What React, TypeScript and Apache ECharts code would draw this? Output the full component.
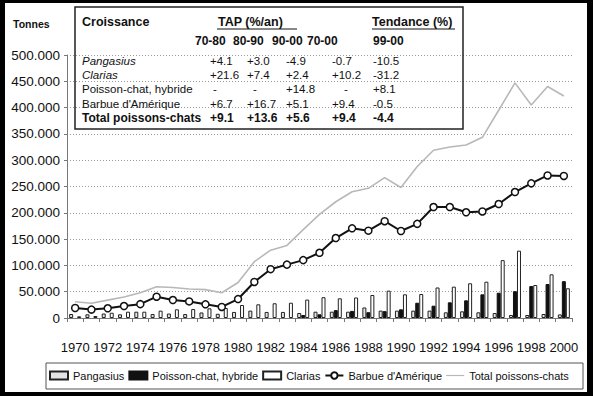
import React, { useEffect, useRef } from "react";
import * as echarts from "echarts";

const years = ["1970","1971","1972","1973","1974","1975","1976","1977","1978","1979","1980","1981","1982","1983","1984","1985","1986","1987","1988","1989","1990","1991","1992","1993","1994","1995","1996","1997","1998","1999","2000"];

const pangasius = [7600, 7000, 8500, 7000, 12000, 7500, 8500, 7500, 10500, 8000, 11500, 14000, 11500, 11500, 9500, 12000, 12000, 12000, 20000, 14000, 14000, 14000, 14000, 10800, 12700, 10800, 9500, 5700, 5700, 7600, 6800];
const hybride = [null, null, null, null, null, null, null, null, null, null, null, null, null, null, 5700, 7000, 15000, 13500, 11000, 13000, 16500, 29000, 23400, 29800, 33600, 45000, 48000, 51000, 60800, 64600, 70000];
const clarias = [3200, 3800, 10000, 12000, 12000, 14000, 16500, 17000, 18400, 19000, 24700, 26000, 28000, 29000, 35000, 39500, 37400, 39000, 43700, 52000, 45000, 45600, 58000, 59600, 66000, 69000, 110000, 128000, 62700, 83000, 56500];
const barbue = [19000, 16000, 18500, 22800, 26300, 40500, 34200, 31500, 26000, 21000, 36000, 68500, 92800, 101500, 110000, 124000, 152000, 170500, 166000, 184000, 165400, 179000, 211000, 211000, 201000, 202500, 216700, 239500, 256000, 271000, 270000];
const total = [31000, 28000, 34000, 40000, 48000, 59500, 58000, 55000, 54000, 48000, 67500, 107000, 129000, 138000, 168000, 197000, 221000, 240000, 246500, 267000, 248000, 288000, 319000, 325000, 329000, 343500, 395000, 447000, 405000, 440000, 422000];

const seriesNames = ["Pangasius", "Poisson-chat, hybride", "Clarias", "Barbue d'Amérique", "Total poissons-chats"];

// Table
const tableRows = ["Pangasius", "Clarias", "Poisson-chat, hybride", "Barbue d'Amérique", "Total poissons-chats"];
const tapPeriods = ["70-80", "80-90", "90-00", "70-00"];
const trendPeriod = "99-00";
const tapValues = [
  ["+4.1", "+3.0", "-4.9", "-0.7"],
  ["+21.6", "+7.4", "+2.4", "+10.2"],
  ["-", "-", "+14.8", "-"],
  ["+6.7", "+16.7", "+5.1", "+9.4"],
  ["+9.1", "+13.6", "+5.6", "+9.4"],
];
const trendValues = ["-10.5", "-31.2", "+8.1", "-0.5", "-4.4"];

const FONT = '"Liberation Sans", Arial, Helvetica, sans-serif';

function fmt(v: number): string {
  if (v === 0) return "0";
  return String(v).replace(/\B(?=(\d{3})+(?!\d))/g, ".");
}

function buildTable(): any[] {
  const els: any[] = [];
  const ink = "#111";
  els.push({ type: "rect", shape: { x: 75, y: 7, width: 388, height: 122 }, style: { fill: "none", stroke: "#222", lineWidth: 1.5 }, z: 10 });
  const txt = (x: number, y: number, text: string, font: string) => ({
    type: "text", x, y, z: 11,
    style: { text, font, fill: ink, textAlign: "left", textVerticalAlign: "middle" },
  });
  els.push(txt(82, 22, "Croissance", `bold 12.5px ${FONT}`));
  els.push(txt(218, 22, "TAP (%/an)", `bold 12.5px ${FONT}`));
  els.push({ type: "line", shape: { x1: 217, y1: 29, x2: 297, y2: 29 }, style: { stroke: ink, lineWidth: 1 }, z: 11 });
  els.push(txt(372, 22, "Tendance (%)", `bold 12.5px ${FONT}`));
  els.push({ type: "line", shape: { x1: 372, y1: 29, x2: 455, y2: 29 }, style: { stroke: ink, lineWidth: 1 }, z: 11 });
  const headX = [195, 233, 272, 307];
  tapPeriods.forEach((p, i) => els.push(txt(headX[i], 41, p, `bold 12px ${FONT}`)));
  els.push(txt(373, 41, trendPeriod, `bold 12px ${FONT}`));
  const rowY = [61, 75, 89, 104, 118];
  const colX = [210, 247, 286, 332];
  const dashOff = [3, 6, 0, 12];
  tableRows.forEach((r, i) => {
    const bold = i === 4;
    const italic = i < 2;
    const f = `${italic ? "italic " : ""}${bold ? "bold " : ""}${bold ? 12 : 11.5}px ${FONT}`;
    els.push(txt(82, rowY[i], r, f));
    tapValues[i].forEach((v, j) => {
      els.push(txt(colX[j] + (v === "-" ? dashOff[j] : 0), rowY[i], v, `${bold ? "bold 12px" : "11.5px"} ${FONT}`));
    });
    els.push(txt(373, rowY[i], trendValues[i], `${bold ? "bold 12px" : "11.5px"} ${FONT}`));
  });
  return els;
}

export default function App() {
  const ref = useRef<HTMLDivElement>(null);
  useEffect(() => {
    if (!ref.current) return;
    const chart = echarts.init(ref.current, undefined, { renderer: "svg" });
    const option: any = {
      animation: false,
      backgroundColor: "#fff",
      grid: { left: 67, right: 21, top: 55, bottom: 78 },
      xAxis: {
        type: "category",
        data: years,
        boundaryGap: true,
        axisLine: { lineStyle: { color: "#777", width: 1 } },
        axisTick: { show: true, interval: 0, length: 4, lineStyle: { color: "#777" } },
        axisLabel: { interval: 1, margin: 23, color: "#111", fontFamily: FONT, fontSize: 13, showMinLabel: true, showMaxLabel: true, hideOverlap: false },
        splitLine: { show: false },
      },
      yAxis: {
        type: "value",
        min: 0,
        max: 500000,
        interval: 50000,
        axisLine: { show: true, lineStyle: { color: "#777" } },
        axisTick: { show: true, length: 3, lineStyle: { color: "#777" } },
        axisLabel: { margin: 7, color: "#111", fontFamily: FONT, fontSize: 13.5, formatter: (v: number) => fmt(v) },
        splitLine: { show: true, lineStyle: { color: "#999", type: [1, 2], width: 1 } },
      },
      legend: {
        left: 49,
        top: 370,
        padding: 0,
        itemGap: 4,
        itemWidth: 18,
        itemHeight: 8,
        textStyle: { fontFamily: FONT, fontSize: 11, color: "#111" },
        data: [
          { name: seriesNames[0], icon: "rect" },
          { name: seriesNames[1], icon: "rect" },
          { name: seriesNames[2], icon: "rect" },
          { name: seriesNames[3] },
          { name: seriesNames[4], icon: "path://M0,0 M18,8 M0,3.4 L18,3.4 L18,4.6 L0,4.6 Z" },
        ],
      },
      series: [
        { name: seriesNames[0], type: "bar", data: pangasius, barWidth: 4, barGap: "0%", itemStyle: { color: "#e4e4e4", borderColor: "#222", borderWidth: 1 } },
        { name: seriesNames[1], type: "bar", data: hybride, barWidth: 4, barGap: "0%", itemStyle: { color: "#111", borderColor: "#111", borderWidth: 1 } },
        { name: seriesNames[2], type: "bar", data: clarias, barWidth: 4, barGap: "0%", itemStyle: { color: "#fff", borderColor: "#222", borderWidth: 1 } },
        { name: seriesNames[4], type: "line", data: total, symbol: "none", lineStyle: { color: "#b8b8b8", width: 1.6 }, itemStyle: { color: "#b8b8b8" }, z: 3 },
        { name: seriesNames[3], type: "line", data: barbue, symbol: "circle", symbolSize: 7, lineStyle: { color: "#111", width: 2 }, itemStyle: { color: "#fff", borderColor: "#111", borderWidth: 1.5 }, z: 4 },
      ],
      graphic: [
        { type: "text", x: 13, y: 24, style: { text: "Tonnes", font: `bold 10.5px ${FONT}`, fill: "#111", textVerticalAlign: "middle" } },
        { type: "rect", shape: { x: 46, y: 363, width: 537, height: 26 }, style: { fill: "none", stroke: "#555", lineWidth: 1 } },
        ...buildTable(),
        { type: "rect", shape: { x: 0, y: 0, width: 5, height: 396 }, style: { fill: "#000" }, z: 20 },
        { type: "rect", shape: { x: 587, y: 0, width: 6, height: 396 }, style: { fill: "#000" }, z: 20 },
        { type: "rect", shape: { x: 0, y: 0, width: 593, height: 3 }, style: { fill: "#000" }, z: 20 },
        { type: "rect", shape: { x: 0, y: 392, width: 593, height: 4 }, style: { fill: "#000" }, z: 20 },
      ],
    };
    chart.setOption(option);
    return () => chart.dispose();
  }, []);
  return <div ref={ref} style={{ position: "fixed", left: 0, top: 0, width: 593, height: 396, background: "#fff" }} />;
}
